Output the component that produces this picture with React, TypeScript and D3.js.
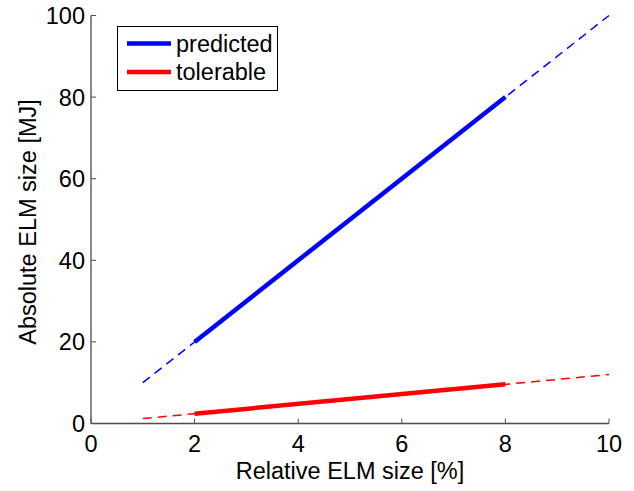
import React from "react";
import * as d3 from "d3";

// relative ELM size [%] -> absolute ELM size [MJ]
const solidX = [2, 8];
const dashX = [1, 10];
const predictedSlope = 10; // MJ per %
const tolerableSlope = 1.2; // MJ per %
const seriesNames = ["predicted", "tolerable"];
const seriesColors = ["#0000ff", "#ff0000"];
const xTicks = [0, 2, 4, 6, 8, 10];
const yTicks = [0, 20, 40, 60, 80, 100];

const W = 634;
const H = 491;
const font = "'Liberation Sans', Arial, Helvetica, sans-serif";
const fs = 23.5;

export default function App() {
  const x = d3.scaleLinear().domain([0, 10]).range([91, 609]);
  const y = d3.scaleLinear().domain([0, 100]).range([423.5, 15.5]);
  const slopes = [predictedSlope, tolerableSlope];

  const line = d3
    .line<number[]>()
    .x(d => x(d[0]))
    .y(d => y(d[1]));

  const axisColor = "#4d4d4d";

  return (
    <svg
      width={W}
      height={H}
      style={{ position: "absolute", left: 0, top: 0, background: "#fff" }}
      fontFamily={font}
    >
      {/* series */}
      {slopes.map((k, i) => (
        <g key={i}>
          <path
            d={line(dashX.map(v => [v, v * k])) || ""}
            fill="none"
            stroke={seriesColors[i]}
            strokeWidth={1.5}
            strokeDasharray="9,6"
          />
          <path
            d={line(solidX.map(v => [v, v * k])) || ""}
            fill="none"
            stroke={seriesColors[i]}
            strokeWidth={4.5}
          />
        </g>
      ))}

      {/* axes */}
      <line x1={x(0)} x2={x(10)} y1={y(0)} y2={y(0)} stroke={axisColor} strokeWidth={1.3} />
      <line x1={x(0)} x2={x(0)} y1={y(0)} y2={y(100)} stroke={axisColor} strokeWidth={1.3} />
      {xTicks.map(t => (
        <g key={"x" + t}>
          <line x1={x(t)} x2={x(t)} y1={y(0)} y2={y(0) - 5} stroke={axisColor} strokeWidth={1} />
          <text x={x(t)} y={452} fontSize={fs} textAnchor="middle" fill="#000">
            {t}
          </text>
        </g>
      ))}
      {yTicks.map(t => (
        <g key={"y" + t}>
          <line x1={x(0)} x2={x(0) + 5} y1={y(t)} y2={y(t)} stroke={axisColor} strokeWidth={1} />
          <text x={85} y={y(t) + 8.5} fontSize={fs} textAnchor="end" fill="#000">
            {t}
          </text>
        </g>
      ))}

      <text x={350} y={479} fontSize={fs} textAnchor="middle" fill="#000">
        Relative ELM size [%]
      </text>
      <text
        transform={`translate(35.5, 222) rotate(-90)`}
        fontSize={fs}
        textAnchor="middle"
        fill="#000"
      >
        Absolute ELM size [MJ]
      </text>

      {/* legend */}
      <rect x={117.5} y={26.5} width={160} height={64} fill="#fff" stroke="#000" strokeWidth={1} />
      {seriesNames.map((name, i) => (
        <g key={name}>
          <line
            x1={127}
            x2={171}
            y1={43.5 + i * 28.5}
            y2={43.5 + i * 28.5}
            stroke={seriesColors[i]}
            strokeWidth={4.5}
          />
          <text x={176} y={51.5 + i * 28.5} fontSize={fs} fill="#000">
            {name}
          </text>
        </g>
      ))}
    </svg>
  );
}
